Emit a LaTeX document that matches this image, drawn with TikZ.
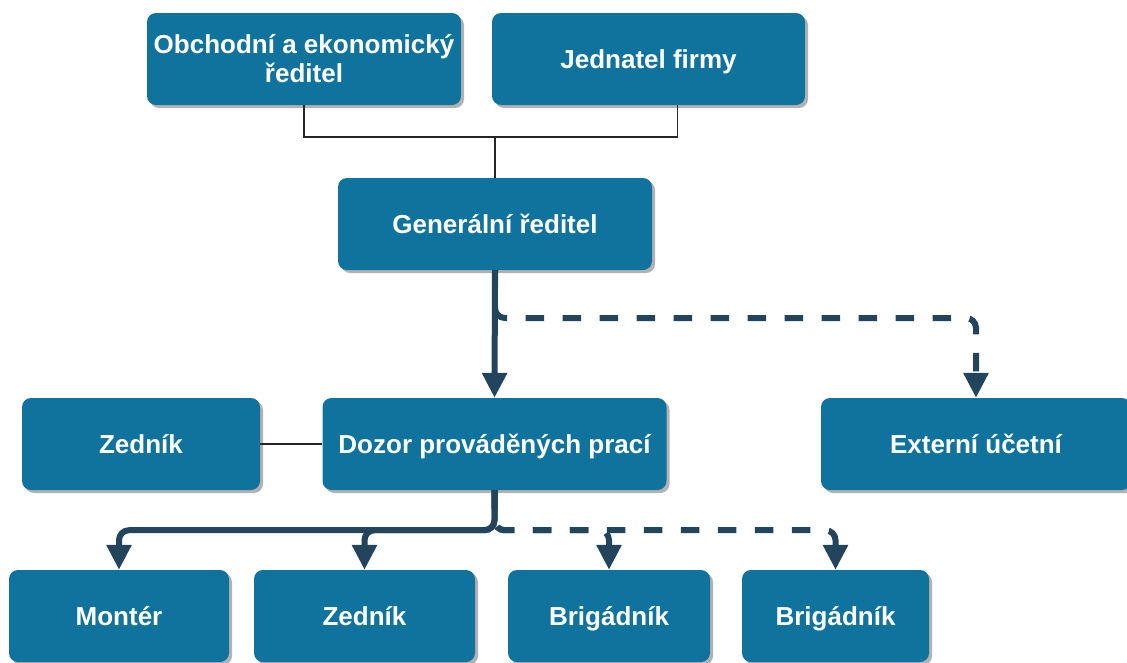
\documentclass[tikz,border=0pt]{standalone}
\usepackage{fontspec}
\setmainfont{Liberation Sans}
\usetikzlibrary{arrows.meta,shadows,calc}
\definecolor{boxblue}{HTML}{10739E}
\definecolor{arrowc}{HTML}{23445D}
\begin{document}
\begin{tikzpicture}[x=1pt,y=-1pt,
 box/.style={rectangle, rounded corners=9pt, fill=boxblue, text=white,
   font=\fontsize{26}{29}\selectfont\bfseries, align=center,
   minimum height=92pt, inner sep=2pt,
   drop shadow={shadow xshift=3pt,shadow yshift=-3pt,fill=black,opacity=0.3}},
 one/.style={text height=18.6pt, text depth=0pt},
 thinline/.style={draw=black!85, line width=1.6pt},
 mainline/.style={draw=arrowc, line width=6pt, rounded corners=10pt},
 tip/.style={-{Triangle[length=25pt,width=24pt]}},
 dsh/.style={dash pattern=on 18.5pt off 18.5pt}
]
\useasboundingbox (0,0) rectangle (1127,662);
\node[box, minimum width=314pt] (oe) at (304,59) {Obchodní a ekonomický\\ředitel};
\node[box, one, minimum width=313pt] (jf) at (648.5,59) {Jednatel firmy};
\node[box, one, minimum width=314pt] (gr) at (495,224) {Generální ředitel};
\node[box, one, minimum width=238pt] (z1) at (141,444) {Zedník};
\node[box, one, minimum width=344pt] (dz) at (494.5,444) {Dozor prováděných prací};
\node[box, one, minimum width=310pt] (ex) at (976,444) {Externí účetní};
\node[box, one, minimum width=220pt] (mo) at (119,616) {Montér};
\node[box, one, minimum width=221pt] (z2) at (364.5,616) {Zedník};
\node[box, one, minimum width=202pt] (b1) at (609,616) {Brigádník};
\node[box, one, minimum width=187pt] (b2) at (835.5,616) {Brigádník};

\coordinate (j) at (495,137);
\coordinate (jfa) at ([xshift=29pt]jf.south);
\draw[thinline] (oe.south) |- (j) -| (jfa);
\draw[thinline] (j) -- (gr.north);
\draw[thinline] (z1) -- (dz);

\coordinate (gb) at (495,318);
\coordinate (eb) at (ex.north |- gb);
\draw[mainline, dsh, tip] (gr.south) -- (gb) -- (eb) -- (ex.north);
\draw[mainline, tip] (gr.south) -- (dz.north);

\draw[mainline, dsh, tip] (dz.south) -- ++(0,40) -| (b1.north);
\draw[mainline, dsh, tip] (dz.south) -- ++(0,40) -| (b2.north);
\draw[mainline, tip] (dz.south) -- ++(0,40) -| (mo.north);
\draw[mainline, tip] (dz.south) -- ++(0,40) -| (z2.north);
\end{tikzpicture}
\end{document}
